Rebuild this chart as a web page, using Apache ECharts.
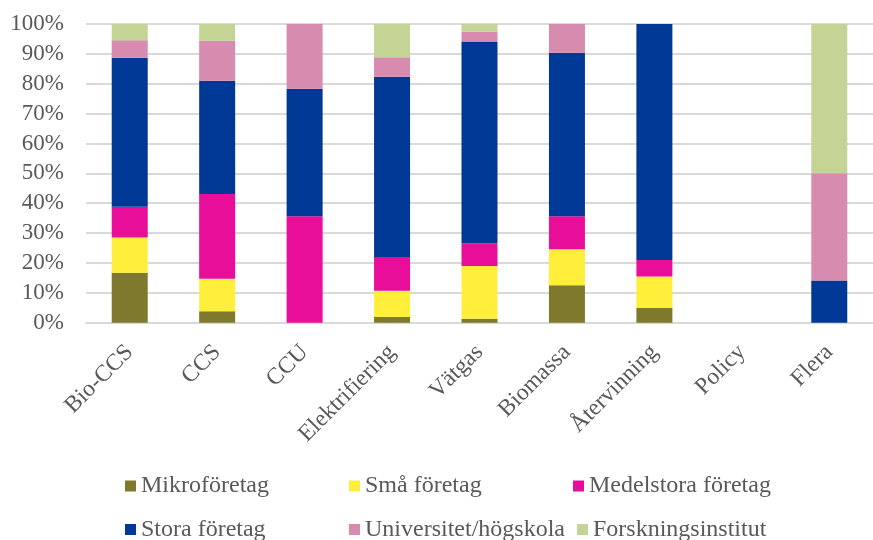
<!DOCTYPE html>
<html>
<head>
<meta charset="utf-8">
<script src="https://cdn.jsdelivr.net/npm/echarts@6/dist/echarts.min.js"></script>
<style>
  html, body { margin: 0; padding: 0; background: #fff; }
  #chart { width: 873px; height: 540px; }
</style>
</head>
<body>
<div id="chart"></div>
<script>
// Share of actors per technology area (%)
const categories = ['Bio-CCS', 'CCS', 'CCU', 'Elektrifiering', 'Vätgas', 'Biomassa', 'Återvinning', 'Policy', 'Flera'];
const seriesNames = ['Mikroföretag', 'Små företag', 'Medelstora företag', 'Stora företag', 'Universitet/högskola', 'Forskningsinstitut'];

const mikro      = [16.7,  3.8,  0.0,  1.9,  1.3, 12.5,  5.0, 0,  0.0];
const sma        = [11.8, 10.9,  0.0,  8.8, 17.7, 12.1, 10.5, 0,  0.0];
const medelstora = [10.3, 28.4, 35.6, 11.3,  7.6, 11.0,  5.5, 0,  0.0];
const stora      = [49.9, 37.9, 42.7, 60.3, 67.5, 54.8, 79.0, 0, 14.1];
const universitet= [ 5.9, 13.4, 21.7,  6.6,  3.3,  9.6,  0.0, 0, 35.9];
const forskning  = [ 5.4,  5.6,  0.0, 11.1,  2.6,  0.0,  0.0, 0, 50.0];

const yTicks = [0, 10, 20, 30, 40, 50, 60, 70, 80, 90, 100];

const seriesData = [mikro, sma, medelstora, stora, universitet, forskning];
const colors = ['#7F792E', '#FFEF3A', '#E90E9A', '#003896', '#D78BAE', '#C3D494'];

const font = '"Liberation Serif", "Times New Roman", serif';
const textColor = '#595959';

const chart = echarts.init(document.getElementById('chart'), null, { renderer: 'canvas' });

const legendBase = {
  orient: 'horizontal',
  left: 125,
  itemWidth: 11,
  itemHeight: 11,
  itemGap: 12,
  icon: 'rect',
  textStyle: { fontFamily: font, fontSize: 24, color: textColor, width: 196, lineHeight: 26, padding: [0, 0, 0, 0] },
  padding: 0
};

chart.setOption({
  animation: false,
  color: colors,
  textStyle: { fontFamily: font },
  grid: { left: 86, top: 24, width: 799, height: 298.7, containLabel: false },
  legend: [
    Object.assign({}, legendBase, { top: 473, data: seriesNames.slice(0, 3) }),
    Object.assign({}, legendBase, { top: 516.5, data: seriesNames.slice(3, 6) })
  ],
  xAxis: {
    type: 'category',
    data: categories,
    axisLine: { show: true, lineStyle: { color: '#D9D9D9', width: 2 } },
    axisTick: { show: false },
    axisLabel: {
      rotate: 45,
      interval: 0,
      margin: 26,
      fontFamily: font,
      fontSize: 23.5,
      color: textColor
    }
  },
  yAxis: {
    type: 'value',
    min: yTicks[0],
    max: yTicks[yTicks.length - 1],
    interval: 10,
    axisLine: { show: false },
    axisTick: { show: false },
    splitLine: { lineStyle: { color: '#D9D9D9', width: 2 } },
    axisLabel: {
      formatter: '{value}%',
      margin: 22,
      fontFamily: font,
      fontSize: 23,
      color: textColor
    }
  },
  series: seriesNames.map((name, i) => ({
    name: name,
    type: 'bar',
    stack: 'total',
    barWidth: 36,
    data: seriesData[i],
    itemStyle: { color: colors[i] }
  }))
});
</script>
</body>
</html>
